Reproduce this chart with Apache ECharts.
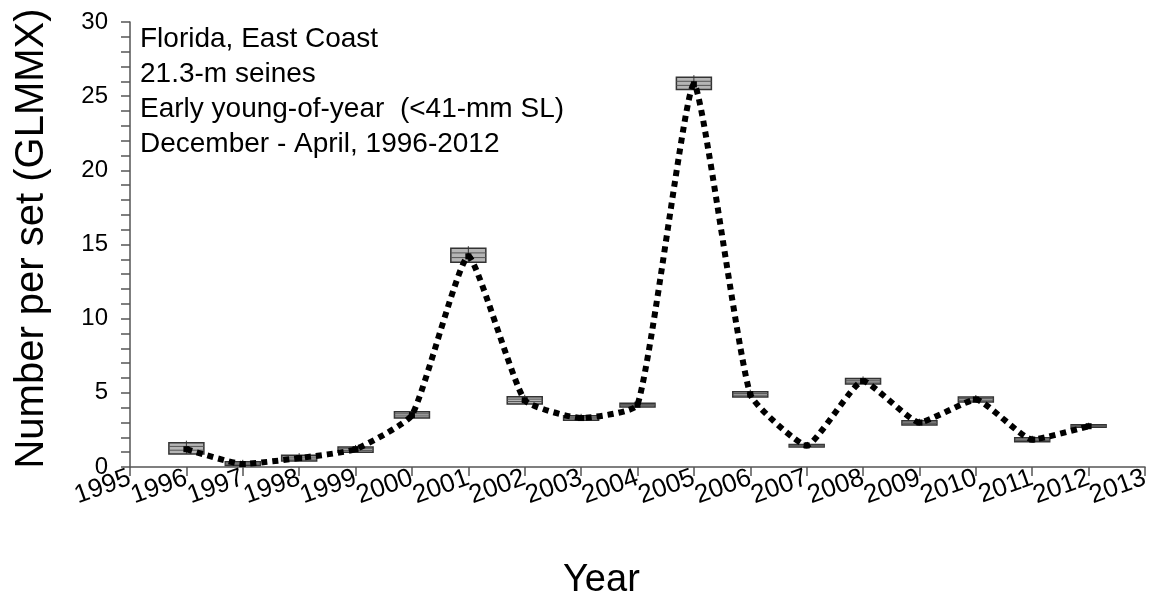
<!DOCTYPE html>
<html>
<head>
<meta charset="utf-8">
<script src="https://cdn.jsdelivr.net/npm/echarts@6/dist/echarts.min.js"></script>
<style>
  html, body { margin: 0; padding: 0; background: #fff; }
  #chart { width: 1155px; height: 600px; }
</style>
</head>
<body>
<div id="chart"></div>
<script>
// Annual index of early young-of-year abundance, Florida east coast
const xTickLabels = ['1995', '1996', '1997', '1998', '1999', '2000', '2001', '2002', '2003', '2004',
                     '2005', '2006', '2007', '2008', '2009', '2010', '2011', '2012', '2013'];
const years = ['1996', '1997', '1998', '1999', '2000', '2001', '2002', '2003', '2004', '2005', '2006',
               '2007', '2008', '2009', '2010', '2011', '2012'];
const meanPerSet = [1.2, 0.2, 0.6, 1.2, 3.5, 14.2, 4.5, 3.3, 4.2, 25.8, 4.9, 1.45, 5.8, 3.0, 4.55, 1.85, 2.75];
const lowerBound = [0.88, 0.1, 0.4, 1.0, 3.3, 13.8, 4.25, 3.15, 4.05, 25.45, 4.72, 1.35, 5.6, 2.83, 4.39, 1.7, 2.68];
const upperBound = [1.64, 0.35, 0.8, 1.35, 3.73, 14.75, 4.74, 3.45, 4.3, 26.28, 5.08, 1.52, 5.97, 3.12, 4.72, 1.97, 2.85];

const infoLines = [
  'Florida, East Coast',
  '21.3-m seines',
  'Early young-of-year  (<41-mm SL)',
  'December - April, 1996-2012'
];

const xTitle = 'Year';
const yTitle = 'Number per set (GLMMX)';

const FONT = '"Liberation Sans", Arial, sans-serif';

const lineData = years.map((y, i) => [y, meanPerSet[i]]);
const boxData = years.map((y, i) => [y, lowerBound[i], upperBound[i]]);

const chart = echarts.init(document.getElementById('chart'), null, { renderer: 'canvas' });

const BOX_W = 35;

function renderBox(params, api) {
  const x = api.value(0);
  const lo = api.coord([x, api.value(1)]);
  const hi = api.coord([x, api.value(2)]);
  const cx = lo[0];
  const half = BOX_W / 2;
  const h = lo[1] - hi[1];
  const children = [
    {
      type: 'rect',
      shape: { x: cx - half, y: hi[1], width: BOX_W, height: h },
      style: { fill: '#b5b5b5', stroke: '#333', lineWidth: 1.5 }
    }
  ];
  [1 / 3, 2 / 3].forEach(f => {
    const yy = hi[1] + h * f;
    children.push({
      type: 'line',
      shape: { x1: cx - half, y1: yy, x2: cx + half, y2: yy },
      style: { stroke: '#555', lineWidth: 1 }
    });
  });
  children.push({
    type: 'line',
    shape: { x1: cx, y1: hi[1] - 2, x2: cx, y2: lo[1] },
    style: { stroke: '#333', lineWidth: 1 }
  });
  return { type: 'group', children };
}

const option = {
  backgroundColor: '#fff',
  animation: false,
  grid: { left: 130, right: 10, top: 22, bottom: 133, containLabel: false },
  xAxis: {
    type: 'category',
    data: xTickLabels,
    boundaryGap: false,
    axisLine: { show: true, onZero: false, lineStyle: { color: '#555', width: 1.5 } },
    axisTick: { show: true, inside: false, length: 9, interval: 0, lineStyle: { color: '#555', width: 1.5 } },
    axisLabel: {
      interval: 0,
      rotate: 20,
      margin: 10,
      color: '#000',
      fontSize: 26,
      fontFamily: FONT,
      hideOverlap: false
    },
    splitLine: { show: false }
  },
  yAxis: {
    type: 'value',
    min: 0,
    max: 30,
    interval: 5,
    name: yTitle,
    nameLocation: 'middle',
    nameGap: 78,
    nameTextStyle: { fontSize: 40, fontFamily: FONT, color: '#000', padding: [0, 0, 0, 12] },
    axisLine: { show: true, onZero: false, lineStyle: { color: '#555', width: 1.5 } },
    axisTick: { show: true, inside: false, length: 9, lineStyle: { color: '#555', width: 1.5 } },
    minorTick: { show: true, splitNumber: 5, length: 9, lineStyle: { color: '#555', width: 1.5 } },
    axisLabel: { margin: 22, color: '#000', fontSize: 24, fontFamily: FONT },
    splitLine: { show: false }
  },
  graphic: [
    {
      type: 'text',
      left: 140,
      top: 22,
      style: {
        text: infoLines.join('\n'),
        font: '28px ' + FONT,
        fill: '#000',
        lineHeight: 35
      }
    },
    {
      type: 'text',
      left: 563,
      top: 562,
      style: { text: xTitle, font: '38px ' + FONT, fill: '#000' }
    }
  ],
  series: [
    {
      type: 'custom',
      renderItem: renderBox,
      data: boxData,
      encode: { x: 0, y: [1, 2] },
      z: 2,
      silent: true
    },
    {
      type: 'line',
      data: lineData,
      smooth: 0.15,
      symbol: 'rect',
      symbolSize: 6,
      itemStyle: { color: '#000' },
      lineStyle: { color: '#000', width: 6, type: [6, 5], cap: 'butt' },
      z: 3,
      silent: true
    }
  ]
};

chart.setOption(option);
</script>
</body>
</html>
